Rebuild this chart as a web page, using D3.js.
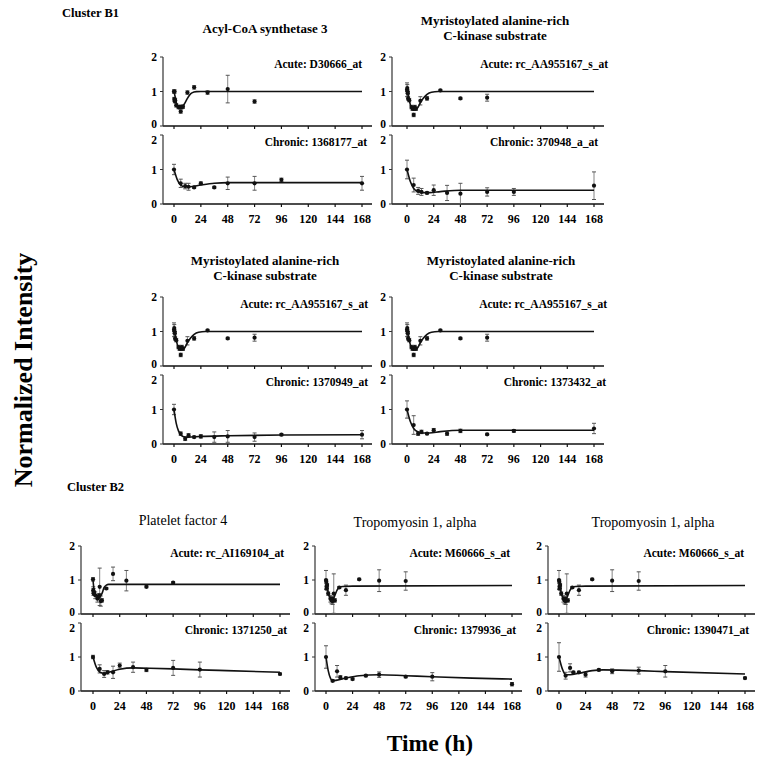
<!DOCTYPE html>
<html><head><meta charset="utf-8">
<script src="https://cdn.jsdelivr.net/npm/d3@7"></script>
<style>html,body{margin:0;padding:0;background:#fff}svg{display:block}</style>
</head><body>
<script>
// ---- sampling times ----
const acuteTimes = [0,0.25,0.5,0.75,1,2,4,5,5.5,6,7,8,12,18,30,48,72];
const chronicTimes = [0,6,10,13,18,24,36,48,72,96,168];
const xTicks = [0,24,48,72,96,120,144,168];
const yTicks = [0,1,2];

// ---- Acute probes (means, sd) ----
const acuteD30666 = [1.0,0.78,1.0,0.72,0.75,0.6,0.55,0.55,0.55,0.42,0.55,0.56,0.97,1.12,0.97,1.07,0.71];
const acuteD30666Err = [0.05,0.05,0.05,0.05,0.05,0.05,0.05,0.05,0.05,0.05,0.05,0.05,0.05,0.05,0.05,0.4,0.05];
const acuteAA955167 = [1.05,1.1,1.0,0.95,0.8,0.75,0.55,0.5,0.52,0.32,0.55,0.5,0.73,0.8,1.03,0.8,0.82];
const acuteAA955167Err = [0.2,0.1,0.05,0.05,0.05,0.05,0.05,0.05,0.05,0.05,0.05,0.05,0.12,0.05,0.03,0.03,0.1];
const acuteAI169104 = [1.02,0.7,0.65,0.6,0.62,0.55,0.45,0.5,0.55,0.8,0.38,0.4,0.75,1.18,0.98,0.8,0.92];
const acuteAI169104Err = [0.05,0.1,0.1,0.05,0.05,0.1,0.1,0.05,0.05,0.55,0.15,0.05,0.03,0.2,0.3,0.03,0.03];
const acuteM60666 = [1.0,0.95,0.8,0.75,0.85,0.6,0.45,0.4,0.45,0.38,0.6,0.4,0.78,0.7,1.02,0.98,0.97];
const acuteM60666Err = [0.28,0.05,0.05,0.05,0.05,0.05,0.1,0.1,0.05,0.1,0.58,0.05,0.03,0.15,0.03,0.32,0.27];

// ---- Chronic probes (means, sd) ----
const chron1368177 = [1.0,0.6,0.52,0.5,0.48,0.6,0.48,0.6,0.6,0.7,0.6];
const chron1368177Err = [0.15,0.12,0.08,0.1,0.03,0.04,0.03,0.18,0.2,0.05,0.2];
const chron370948 = [1.0,0.55,0.38,0.35,0.32,0.4,0.32,0.3,0.35,0.35,0.53];
const chron370948Err = [0.27,0.2,0.1,0.1,0.03,0.15,0.22,0.3,0.12,0.1,0.4];
const chron1370949 = [1.0,0.3,0.15,0.25,0.2,0.22,0.2,0.22,0.2,0.27,0.27];
const chron1370949Err = [0.15,0.05,0.05,0.05,0.03,0.05,0.15,0.17,0.12,0.03,0.12];
const chron1373432 = [1.0,0.55,0.3,0.35,0.3,0.4,0.3,0.38,0.28,0.38,0.45];
const chron1373432Err = [0.25,0.27,0.05,0.05,0.03,0.05,0.05,0.05,0.03,0.04,0.15];
const chron1371250 = [1.0,0.65,0.5,0.55,0.55,0.75,0.7,0.62,0.68,0.63,0.5];
const chron1371250Err = [0.05,0.12,0.1,0.05,0.18,0.07,0.15,0.05,0.22,0.22,0.03];
const chron1379936 = [1.0,0.3,0.58,0.4,0.38,0.35,0.45,0.48,0.42,0.42,0.2];
const chron1379936Err = [0.33,0.03,0.17,0.05,0.03,0.03,0.03,0.08,0.03,0.12,0.05];
const chron1390471 = [1.0,0.45,0.68,0.55,0.55,0.48,0.62,0.58,0.6,0.58,0.38];
const chron1390471Err = [0.42,0.1,0.12,0.03,0.03,0.07,0.03,0.07,0.1,0.17,0.03];

// ---- fitted model curves [time, value] ----
const fitAcuteD30666 = [[0,1.0],[1,0.85],[2,0.68],[3,0.58],[4,0.55],[6,0.55],[8,0.58],[10,0.68],[12,0.8],[14,0.9],[16,0.96],[20,0.995],[24,1.0],[168,1.0]];
const fitAcuteAA955167 = [[0,1.05],[1,0.9],[2,0.75],[3,0.62],[4,0.53],[6,0.46],[8,0.47],[10,0.55],[12,0.68],[15,0.82],[18,0.92],[22,0.98],[28,1.0],[168,1.0]];
const fitAcuteAI169104 = [[0,1.0],[1,0.7],[2,0.6],[4,0.52],[6,0.5],[8,0.6],[10,0.78],[12,0.85],[14,0.87],[20,0.87],[168,0.87]];
const fitAcuteM60666 = [[0,1.0],[1,0.8],[2,0.62],[4,0.45],[6,0.42],[8,0.55],[10,0.7],[12,0.78],[15,0.81],[24,0.82],[168,0.84]];
const fitChron1368177 = [[0,1.0],[3,0.7],[6,0.55],[10,0.5],[14,0.5],[24,0.55],[36,0.6],[48,0.62],[72,0.62],[168,0.62]];
const fitChron370948 = [[0,1.0],[3,0.65],[6,0.45],[10,0.36],[14,0.33],[20,0.33],[30,0.36],[48,0.4],[72,0.4],[168,0.4]];
const fitChron1370949 = [[0,1.0],[2,0.6],[4,0.38],[6,0.27],[8,0.22],[12,0.2],[24,0.22],[48,0.24],[96,0.26],[168,0.27]];
const fitChron1373432 = [[0,1.0],[3,0.65],[6,0.45],[10,0.35],[14,0.32],[20,0.32],[30,0.36],[48,0.4],[168,0.4]];
const fitChron1371250 = [[0,1.0],[3,0.7],[6,0.56],[10,0.52],[14,0.55],[24,0.64],[36,0.68],[48,0.67],[72,0.65],[96,0.62],[120,0.6],[168,0.55]];
const fitChron1379936 = [[0,1.0],[2,0.6],[4,0.38],[6,0.3],[10,0.32],[18,0.38],[30,0.45],[48,0.48],[72,0.45],[96,0.42],[132,0.38],[168,0.35]];
const fitChron1390471 = [[0,1.0],[3,0.65],[6,0.48],[10,0.48],[18,0.52],[30,0.6],[40,0.62],[72,0.6],[96,0.57],[168,0.5]];

// ---- panel definitions ----
const panels = [
  {title:["Acyl-CoA synthetase 3"], bold:true, tx:265, ty:[33], ax:163, x0:174, x1:362, top:57, h:69, gap:9,
   aLab:"Acute: D30666_at", aLabX:362, cLab:"Chronic: 1368177_at", cLabX:367,
   acute:acuteD30666, acuteErr:acuteD30666Err, acuteFit:fitAcuteD30666,
   chronic:chron1368177, chronicErr:chron1368177Err, chronicFit:fitChron1368177},
  {title:["Myristoylated alanine-rich","C-kinase substrate"], bold:true, tx:495, ty:[25,40], ax:392, x0:407, x1:594, top:57, h:69, gap:9,
   aLab:"Acute: rc_AA955167_s_at", aLabX:608, cLab:"Chronic: 370948_a_at", cLabX:598,
   acute:acuteAA955167, acuteErr:acuteAA955167Err, acuteFit:fitAcuteAA955167,
   chronic:chron370948, chronicErr:chron370948Err, chronicFit:fitChron370948},
  {title:["Myristoylated alanine-rich","C-kinase substrate"], bold:true, tx:265, ty:[265,280], ax:163, x0:174, x1:362, top:297, h:69, gap:9,
   aLab:"Acute: rc_AA955167_s_at", aLabX:368, cLab:"Chronic: 1370949_at", cLabX:368,
   acute:acuteAA955167, acuteErr:acuteAA955167Err, acuteFit:fitAcuteAA955167,
   chronic:chron1370949, chronicErr:chron1370949Err, chronicFit:fitChron1370949},
  {title:["Myristoylated alanine-rich","C-kinase substrate"], bold:true, tx:501, ty:[265,280], ax:392, x0:407, x1:594, top:297, h:69, gap:9,
   aLab:"Acute: rc_AA955167_s_at", aLabX:607, cLab:"Chronic: 1373432_at", cLabX:606,
   acute:acuteAA955167, acuteErr:acuteAA955167Err, acuteFit:fitAcuteAA955167,
   chronic:chron1373432, chronicErr:chron1373432Err, chronicFit:fitChron1373432},
  {title:["Platelet factor 4"], bold:false, tx:183, ty:[525], ax:81, x0:93, x1:280, top:546, h:68, gap:9,
   aLab:"Acute: rc_AI169104_at", aLabX:284, cLab:"Chronic: 1371250_at", cLabX:287,
   acute:acuteAI169104, acuteErr:acuteAI169104Err, acuteFit:fitAcuteAI169104,
   chronic:chron1371250, chronicErr:chron1371250Err, chronicFit:fitChron1371250},
  {title:["Tropomyosin 1, alpha"], bold:false, tx:415, ty:[527], ax:315, x0:326, x1:512, top:546, h:68, gap:9,
   aLab:"Acute: M60666_s_at", aLabX:510, cLab:"Chronic: 1379936_at", cLabX:516,
   acute:acuteM60666, acuteErr:acuteM60666Err, acuteFit:fitAcuteM60666,
   chronic:chron1379936, chronicErr:chron1379936Err, chronicFit:fitChron1379936},
  {title:["Tropomyosin 1, alpha"], bold:false, tx:653, ty:[527], ax:548, x0:559, x1:745, top:546, h:68, gap:9,
   aLab:"Acute: M60666_s_at", aLabX:744, cLab:"Chronic: 1390471_at", cLabX:749,
   acute:acuteM60666, acuteErr:acuteM60666Err, acuteFit:fitAcuteM60666,
   chronic:chron1390471, chronicErr:chron1390471Err, chronicFit:fitChron1390471}
];

const FONT = "'Liberation Serif','Times New Roman',Times,serif";
const svg = d3.select("body").append("svg").attr("width",762).attr("height",760)
  .style("font-family",FONT);

svg.append("text").attr("x",62).attr("y",17).attr("font-size",12.5).attr("font-weight","bold").text("Cluster B1");
svg.append("text").attr("x",67).attr("y",491).attr("font-size",12.5).attr("font-weight","bold").text("Cluster B2");
svg.append("text").attr("transform","translate(32,370) rotate(-90)").attr("text-anchor","middle")
  .attr("font-size",26).attr("font-weight","bold").text("Normalized Intensity");
svg.append("text").attr("x",430).attr("y",751).attr("text-anchor","middle")
  .attr("font-size",23.5).attr("font-weight","bold").text("Time (h)");

function subpanel(g, p, y2, times, vals, errs, fit, label, labX, isChronic) {
  const x = d3.scaleLinear().domain([0,168]).range([p.x0,p.x1]);
  const y = d3.scaleLinear().domain([0,2]).range([y2+p.h, y2]);
  const xEnd = p.x1 + 10;
  // axes
  g.append("line").attr("x1",p.ax).attr("x2",xEnd).attr("y1",y(0)).attr("y2",y(0))
    .attr("stroke","#111").attr("stroke-width",1.6);
  g.append("line").attr("x1",p.ax).attr("x2",p.ax).attr("y1",y(0)).attr("y2",y(2))
    .attr("stroke","#333").attr("stroke-width",1.2);
  g.selectAll(null).data(xTicks).join("line")
    .attr("x1",d=>x(d)).attr("x2",d=>x(d)).attr("y1",y(0)).attr("y2",y(0)+3)
    .attr("stroke","#111").attr("stroke-width",1.2);
  g.selectAll(null).data(yTicks).join("line")
    .attr("x1",p.ax-3).attr("x2",p.ax).attr("y1",d=>y(d)).attr("y2",d=>y(d))
    .attr("stroke","#333").attr("stroke-width",1);
  // y tick labels: keep the stacked "0" (acute) / "2" (chronic) apart
  g.selectAll(null).data(yTicks).join("text")
    .attr("x",p.ax-6)
    .attr("y",d=>{
      if (!isChronic && d===0) return y(d)+2;
      if (isChronic && d===2) return y(d)+9;
      return y(d)+4;
    })
    .attr("text-anchor","end")
    .attr("font-size",11.5).attr("font-weight","bold").text(d=>d);
  if (isChronic) {
    g.selectAll(null).data(xTicks).join("text")
      .attr("x",d=>x(d)).attr("y",y(0)+19).attr("text-anchor","middle")
      .attr("font-size",12).attr("font-weight","bold").text(d=>d);
  }
  // error bars
  const pts = times.map((t,i)=>({t, v:vals[i], e:errs[i]}));
  g.selectAll(null).data(pts).join("line")
    .attr("x1",d=>x(d.t)).attr("x2",d=>x(d.t))
    .attr("y1",d=>y(Math.max(0,d.v-d.e))).attr("y2",d=>y(d.v+d.e))
    .attr("stroke","#777").attr("stroke-width",0.9);
  ["lo","hi"].forEach(k=>{
    g.selectAll(null).data(pts).join("line")
      .attr("x1",d=>x(d.t)-2).attr("x2",d=>x(d.t)+2)
      .attr("y1",d=>y(k==="lo"?Math.max(0,d.v-d.e):d.v+d.e))
      .attr("y2",d=>y(k==="lo"?Math.max(0,d.v-d.e):d.v+d.e))
      .attr("stroke","#555").attr("stroke-width",1);
  });
  // fit
  const line = d3.line().x(d=>x(d[0])).y(d=>y(d[1])).curve(d3.curveMonotoneX);
  g.append("path").attr("d",line(fit)).attr("fill","none").attr("stroke","#111").attr("stroke-width",1.6);
  // points
  g.selectAll(null).data(pts).join("circle")
    .attr("cx",d=>x(d.t)).attr("cy",d=>y(d.v)).attr("r",2.1).attr("fill","#111");
  // label
  g.append("text").attr("x",labX).attr("y",y2+11).attr("text-anchor","end")
    .attr("font-size",11.5).attr("font-weight","bold").text(label);
}

panels.forEach(p=>{
  const g = svg.append("g");
  p.title.forEach((t,i)=>{
    g.append("text").attr("x",p.tx).attr("y",p.ty[i]).attr("text-anchor","middle")
      .attr("font-size",p.bold?13:14).attr("font-weight",p.bold?"bold":"normal").text(t);
  });
  subpanel(g,p,p.top,acuteTimes,p.acute,p.acuteErr,p.acuteFit,p.aLab,p.aLabX,false);
  subpanel(g,p,p.top+p.h+p.gap,chronicTimes,p.chronic,p.chronicErr,p.chronicFit,p.cLab,p.cLabX,true);
});
</script>
</body></html>
